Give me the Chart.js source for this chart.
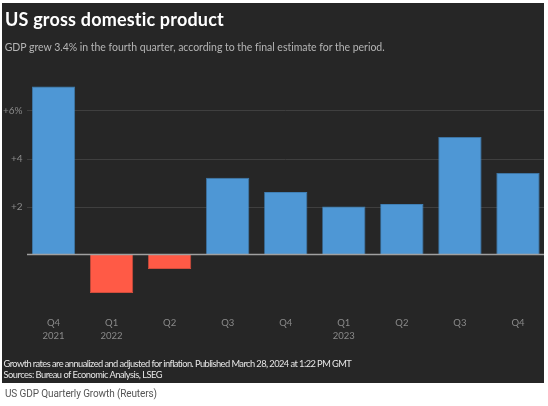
<!DOCTYPE html>
<html>
<head>
<meta charset="utf-8">
<script src="https://cdn.jsdelivr.net/npm/chart.js@4"></script>
<style>
  html, body { margin: 0; padding: 0; background: #ffffff; width: 548px; height: 406px; overflow: hidden; }
  #panel { position: absolute; left: 2px; top: 3px; width: 542px; height: 380px; background: #262626; }
  #wrap { position: absolute; left: 0; top: 0; width: 548px; height: 406px; }
  .t { position: absolute; white-space: nowrap; line-height: 1.2; }
  #title { left: 5px; top: 8.2px; font: bold 18px Lato, "Open Sans", sans-serif; color: #ffffff; }
  #sub { left: 4.7px; top: 41.3px; font: 10.5px Lato, "Open Sans", sans-serif; color: #b5b5b5; }
  #note { left: 3.5px; top: 357.5px; font: 9.3px Lato, "Open Sans", sans-serif; color: #e6e6e6; }
  #src { left: 3.5px; top: 369.1px; font: 9.3px Lato, "Open Sans", sans-serif; color: #e6e6e6; }
  #cap { left: 5px; top: 387.5px; font: 10px Roboto, sans-serif; color: #555555; line-height: 1.172; }
</style>
</head>
<body>
<div id="panel"></div>
<div id="wrap"><canvas id="c" width="548" height="406"></canvas></div>
<div class="t" id="title">US gross domestic product</div>
<div class="t" id="sub">GDP grew 3.4% in the fourth quarter, according to the final estimate for the period.</div>
<div class="t" id="note">Growth rates are annualized and adjusted for inflation. Published March 28, 2024 at 1:22 PM GMT</div>
<div class="t" id="src">Sources: Bureau of Economic Analysis, LSEG</div>
<div class="t" id="cap">US GDP Quarterly Growth (Reuters)</div>
<script>
// Data
const quarters = ["Q4", "Q1", "Q2", "Q3", "Q4", "Q1", "Q2", "Q3", "Q4"];
const years    = ["2021", "2022", "", "", "", "2023", "", "", ""];
const growth   = [7.0, -1.6, -0.6, 3.2, 2.6, 2.0, 2.1, 4.9, 3.4];
const yTickValues = [2, 4, 6];
const yTickLabels = ["+2", "+4", "+6%"];

const labels = quarters.map((q, i) => years[i] ? [q, years[i]] : q);

// fit text widths to the reference layout
const textWidths = { title: 219, sub: 380, note: 348.5, src: 159, cap: 152 };
Object.keys(textWidths).forEach(id => {
  const el = document.getElementById(id);
  const w0 = el.getBoundingClientRect().width;
  const n = el.textContent.length;
  el.style.letterSpacing = ((textWidths[id] - w0) / (n - 1)) + 'px';
});

const gridPlugin = {
  id: 'customGrid',
  beforeDatasetsDraw(chart) {
    const ctx = chart.ctx, y = chart.scales.y;
    ctx.save();
    ctx.strokeStyle = '#3f3f3f';
    ctx.lineWidth = 1;
    yTickValues.forEach(v => {
      const py = Math.round(y.getPixelForValue(v)) + 0.5;
      ctx.beginPath(); ctx.moveTo(27, py); ctx.lineTo(544, py); ctx.stroke();
    });
    ctx.restore();
  },
  afterDatasetsDraw(chart) {
    const ctx = chart.ctx, y = chart.scales.y;
    const py = y.getPixelForValue(0);
    ctx.save();
    ctx.strokeStyle = '#a0a0a0';
    ctx.lineWidth = 1.5;
    ctx.beginPath(); ctx.moveTo(27, py); ctx.lineTo(544, py); ctx.stroke();
    ctx.restore();
  }
};

new Chart(document.getElementById('c'), {
  type: 'bar',
  data: {
    labels: labels,
    datasets: [{
      data: growth,
      backgroundColor: ctx => ctx.raw < 0 ? '#ff5a46' : '#4e97d5',
      borderColor: ctx => ctx.raw < 0 ? '#d04d3c' : '#3f7fb5',
      borderWidth: 0.8,
      categoryPercentage: 1.0,
      barPercentage: 0.745
    }]
  },
  options: {
    responsive: false,
    animation: false,
    devicePixelRatio: 1,
    layout: { padding: { top: 62.5, bottom: 53.5, left: 0, right: 1 } },
    plugins: { legend: { display: false }, tooltip: { enabled: false } },
    scales: {
      x: {
        grid: { display: false, drawTicks: false },
        border: { display: false },
        ticks: {
          color: '#8a8a8a',
          font: { family: 'Lato, "Open Sans", sans-serif', size: 9.5, lineHeight: 1.33 },
          padding: 14.2,
          maxRotation: 0,
          autoSkip: false
        },
        afterFit(s) { s.height = 50; }
      },
      y: {
        min: -2,
        max: 8,
        grid: { display: false, drawTicks: false },
        border: { display: false },
        ticks: {
          stepSize: 2,
          color: '#8a8a8a',
          font: { family: 'Lato, "Open Sans", sans-serif', size: 10 },
          padding: 2,
          callback: v => {
            const i = yTickValues.indexOf(v);
            return i >= 0 ? yTickLabels[i] : '';
          }
        },
        afterFit(s) { s.width = 24.5; }
      }
    }
  },
  plugins: [gridPlugin]
});
</script>
</body>
</html>
